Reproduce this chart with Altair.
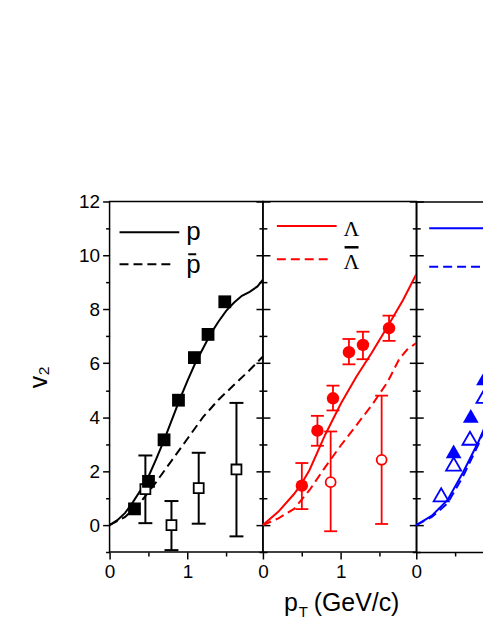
import altair as alt
import pandas as pd

# ---------------- data ----------------
# panel 1 : p (filled squares), p-bar (open squares with error bars)
p_pt = [0.32, 0.50, 0.70, 0.885, 1.09, 1.265, 1.48]
p_v2 = [0.60, 1.62, 3.16, 4.63, 6.21, 7.07, 8.28]
pbar_pt = [0.46, 0.795, 1.145, 1.63]
pbar_v2 = [1.33, 0.00, 1.37, 2.06]
pbar_lo = [0.07, -0.93, 0.05, -0.42]
pbar_hi = [2.58, 0.89, 2.68, 4.53]
p_curve_pt = [0.0, 0.1, 0.2, 0.3, 0.4, 0.5, 0.6, 0.7, 0.8, 0.9, 1.0, 1.1, 1.2, 1.3, 1.4, 1.5, 1.6, 1.7, 1.8, 1.9, 1.97]
p_curve_v2 = [0.0, 0.18, 0.45, 0.85, 1.3, 1.8, 2.45, 3.15, 3.9, 4.65, 5.35, 6.0, 6.55, 7.1, 7.55, 7.95, 8.25, 8.5, 8.65, 8.85, 9.1]
pbar_curve_pt = [0.0, 0.2, 0.4, 0.6, 0.8, 1.0, 1.2, 1.4, 1.6, 1.8, 1.97]
pbar_curve_v2 = [0.0, 0.3, 0.85, 1.6, 2.4, 3.2, 4.0, 4.65, 5.2, 5.75, 6.25]

# panel 2 : Lambda (filled circles), anti-Lambda (open circles)
lam_pt = [0.50, 0.70, 0.90, 1.105, 1.285, 1.62]
lam_v2 = [1.46, 3.50, 4.70, 6.41, 6.68, 7.30]
lam_lo = [0.59, 2.94, 4.25, 5.96, 6.15, 6.83]
lam_hi = [2.30, 4.05, 5.17, 6.90, 7.17, 7.77]
alam_pt = [0.87, 1.525]
alam_v2 = [1.59, 2.42]
alam_lo = [-0.23, 0.04]
alam_hi = [3.47, 4.80]
lam_curve_pt = [0.0, 0.2, 0.4, 0.5, 0.6, 0.8, 1.0, 1.2, 1.4, 1.6, 1.8, 1.97]
lam_curve_v2 = [0.0, 0.5, 1.15, 1.55, 2.05, 3.35, 4.5, 5.5, 6.4, 7.35, 8.35, 9.3]
alam_curve_pt = [0.0, 0.2, 0.4, 0.6, 0.8, 1.0, 1.2, 1.4, 1.6, 1.75, 1.85, 1.97]
alam_curve_v2 = [0.0, 0.25, 0.6, 1.3, 2.15, 2.95, 3.7, 4.45, 5.3, 6.15, 6.5, 6.75]

# panel 3 : Xi (filled triangles), anti-Xi (open triangles)
xi_pt = [0.48, 0.70, 0.87]
xi_v2 = [2.73, 4.05, 5.44]
axi_pt = [0.32, 0.48, 0.69, 0.87]
axi_v2 = [1.12, 2.26, 3.22, 4.77]
xi_curve_pt = [0.0, 0.2, 0.4, 0.6, 0.8, 0.95]
xi_curve_v2 = [0.0, 0.35, 0.92, 1.95, 3.1, 4.1]
axi_curve_pt = [0.0, 0.2, 0.4, 0.6, 0.8, 0.95]
axi_curve_v2 = [0.0, 0.3, 0.8, 1.8, 3.0, 4.1]

YMAJ = [0, 2, 4, 6, 8, 10, 12]
YMIN = [-1, 1, 3, 5, 7, 9, 11]

# ---------------- layout constants ----------------
W, W3, H = 154, 74, 352
XMAX = 1.97
XMAX3 = W3 / (W / XMAX)

COMMON = dict(grid=False, tickColor="black", tickWidth=1.5, domainColor="black",
              domainWidth=1.5, labelColor="black", labelFont="Liberation Sans",
              labelFontSize=19, titleColor="black")


def xs(xmax):
    return alt.Scale(domain=[0, xmax], nice=False, zero=False)


YS = alt.Scale(domain=[-1, 12], nice=False, zero=False)


def y_axis(orient, major, labels=False, title=None, domain=False):
    return alt.Axis(orient=orient, values=YMAJ if major else YMIN,
                    tickSize=7 if major else 4, labels=labels, domain=domain,
                    title=title, labelPadding=3, labelOverlap=False, format="d",
                    titleFont="Liberation Sans", titleFontSize=25,
                    titleFontWeight="normal", titlePadding=27, **COMMON)


def x_axis(orient, values, major, labels=False, domain=False, ticks=True):
    return alt.Axis(orient=orient, values=values, tickSize=7 if major else 4,
                    labels=labels, ticks=ticks, domain=domain, title=None,
                    format="d", labelFlush=False, labelOverlap=False,
                    labelPadding=4, **COMMON)


def lay(chart, xf, yf, xmax, xaxis=None, yaxis=None, **extra):
    return chart.encode(
        x=alt.X(xf, type="quantitative", scale=xs(xmax), axis=xaxis),
        y=alt.Y(yf, type="quantitative", scale=YS, axis=yaxis),
        **extra)


ONE = pd.DataFrame({"a": [0]})


def leg_line(color, x1, x2, y, dash=None, width=2):
    kw = dict(color=color, strokeWidth=width)
    if dash:
        kw["strokeDash"] = dash
    return alt.Chart(ONE).mark_rule(**kw).encode(
        x=alt.value(x1), x2=alt.value(x2), y=alt.value(y))


def txt(t, x, y, font, size, color="black", align="left"):
    return alt.Chart(ONE).mark_text(text=t, font=font, fontSize=size, align=align,
                                    baseline="alphabetic", color=color).encode(
        x=alt.value(x), y=alt.value(y))


def curve_df(x, y):
    return pd.DataFrame({"pt": x, "v2": y})


def err_df(x, y, lo, hi):
    return pd.DataFrame({"pt": x, "v2": y, "lo": lo, "hi": hi})


def cap_df(x, lo, hi):
    return pd.DataFrame({"pt": list(x) + list(x), "v": list(lo) + list(hi)})


DASH = [9, 5]

# ---------------- panel 1 ----------------
p1 = alt.layer(
    lay(alt.Chart(curve_df(p_curve_pt, p_curve_v2)).mark_line(color="black", strokeWidth=2),
        "pt", "v2", XMAX, x_axis("bottom", [0, 1], True, labels=True),
        y_axis("left", True, labels=True, title="v₂")),
    lay(alt.Chart(curve_df(pbar_curve_pt, pbar_curve_v2)).mark_line(color="black", strokeWidth=2, strokeDash=DASH),
        "pt", "v2", XMAX, x_axis("bottom", [0.5, 1.5], False), y_axis("left", False)),
    lay(alt.Chart(err_df(pbar_pt, pbar_v2, pbar_lo, pbar_hi)).mark_rule(color="black", strokeWidth=2),
        "pt", "lo", XMAX, None, y_axis("right", True), y2=alt.Y2("hi")),
    lay(alt.Chart(cap_df(pbar_pt, pbar_lo, pbar_hi)).mark_tick(color="black", orient="horizontal", size=14, thickness=2, opacity=1),
        "pt", "v", XMAX, None, y_axis("right", False)),
    lay(alt.Chart(curve_df(pbar_pt, pbar_v2)).mark_point(shape="square", filled=True, fill="white", stroke="black", strokeWidth=1.8, size=100, opacity=1),
        "pt", "v2", XMAX),
    lay(alt.Chart(curve_df(p_pt, p_v2)).mark_point(shape="square", filled=True, color="black", size=165, opacity=1),
        "pt", "v2", XMAX),
    leg_line("black", 10, 70, 31),
    leg_line("black", 10, 64, 63, DASH),
    txt("p", 77, 39, "Liberation Sans", 26),
    leg_line("black", 79, 87, 53, width=2),
    txt("p", 77, 72, "Liberation Sans", 26),
).resolve_axis(x="independent", y="independent").properties(width=W, height=H)

# ---------------- panel 2 ----------------
p2 = alt.layer(
    lay(alt.Chart(curve_df(lam_curve_pt, lam_curve_v2)).mark_line(color="red", strokeWidth=2),
        "pt", "v2", XMAX, x_axis("bottom", [0, 1], True, labels=True), y_axis("left", True)),
    lay(alt.Chart(curve_df(alam_curve_pt, alam_curve_v2)).mark_line(color="red", strokeWidth=2, strokeDash=DASH),
        "pt", "v2", XMAX, x_axis("bottom", [0.5, 1.5], False), y_axis("left", False)),
    lay(alt.Chart(err_df(lam_pt, lam_v2, lam_lo, lam_hi)).mark_rule(color="red", strokeWidth=1.8),
        "pt", "lo", XMAX, None, y_axis("right", True), y2=alt.Y2("hi")),
    lay(alt.Chart(err_df(alam_pt, alam_v2, alam_lo, alam_hi)).mark_rule(color="red", strokeWidth=1.8),
        "pt", "lo", XMAX, None, y_axis("right", False), y2=alt.Y2("hi")),
    lay(alt.Chart(cap_df(lam_pt + alam_pt, lam_lo + alam_lo, lam_hi + alam_hi)).mark_tick(color="red", orient="horizontal", size=13, thickness=1.8, opacity=1),
        "pt", "v", XMAX),
    lay(alt.Chart(curve_df(alam_pt, alam_v2)).mark_point(shape="circle", filled=True, fill="white", stroke="red", strokeWidth=1.8, size=100, opacity=1),
        "pt", "v2", XMAX),
    lay(alt.Chart(curve_df(lam_pt, lam_v2)).mark_circle(color="red", size=155, opacity=1),
        "pt", "v2", XMAX),
    leg_line("red", 14, 74, 24.5),
    leg_line("red", 14, 66, 58, DASH),
    txt("Λ", 81, 35, "Liberation Serif", 22),
    leg_line("black", 82, 96, 46, width=2.5),
    txt("Λ", 81, 68, "Liberation Serif", 22),
    # x-axis title of the whole figure
    txt("p", 35, 411, "Liberation Sans", 25, align="right"),
    txt("T", 36, 417, "Liberation Sans", 15),
    txt("(GeV/c)", 51, 411, "Liberation Sans", 25),
).resolve_axis(x="independent", y="independent").properties(width=W, height=H)

# ---------------- panel 3 (cut at the right edge) ----------------
p3 = alt.layer(
    lay(alt.Chart(curve_df(xi_curve_pt, xi_curve_v2)).mark_line(color="blue", strokeWidth=2),
        "pt", "v2", XMAX3, x_axis("bottom", [0], True, labels=True, domain=True),
        y_axis("left", True, domain=True)),
    lay(alt.Chart(curve_df(axi_curve_pt, axi_curve_v2)).mark_line(color="blue", strokeWidth=2, strokeDash=DASH),
        "pt", "v2", XMAX3, x_axis("bottom", [0.5], False), y_axis("left", False)),
    lay(alt.Chart(curve_df(axi_pt, axi_v2)).mark_point(shape="triangle-up", filled=False, color="blue", strokeWidth=1.8, size=230, opacity=1),
        "pt", "v2", XMAX3, x_axis("top", [0], True, ticks=False, domain=True)),
    lay(alt.Chart(curve_df(xi_pt, xi_v2)).mark_point(shape="triangle-up", filled=True, color="blue", size=250, opacity=1),
        "pt", "v2", XMAX3),
    leg_line("blue", 13, W3, 27),
    leg_line("blue", 13, 66, 65.5, DASH),
).resolve_axis(x="independent", y="independent").properties(
    width=W3, height=H, view=alt.ViewBackground(stroke="transparent"))

chart = alt.hconcat(p1, p2, p3, spacing=0, bounds="flush").properties(
    padding={"left": 18, "top": 183, "right": -13, "bottom": 2},
).configure_view(stroke="black", strokeWidth=1.5)

chart.save("out.html", embed_options={"renderer": "svg", "actions": False})
